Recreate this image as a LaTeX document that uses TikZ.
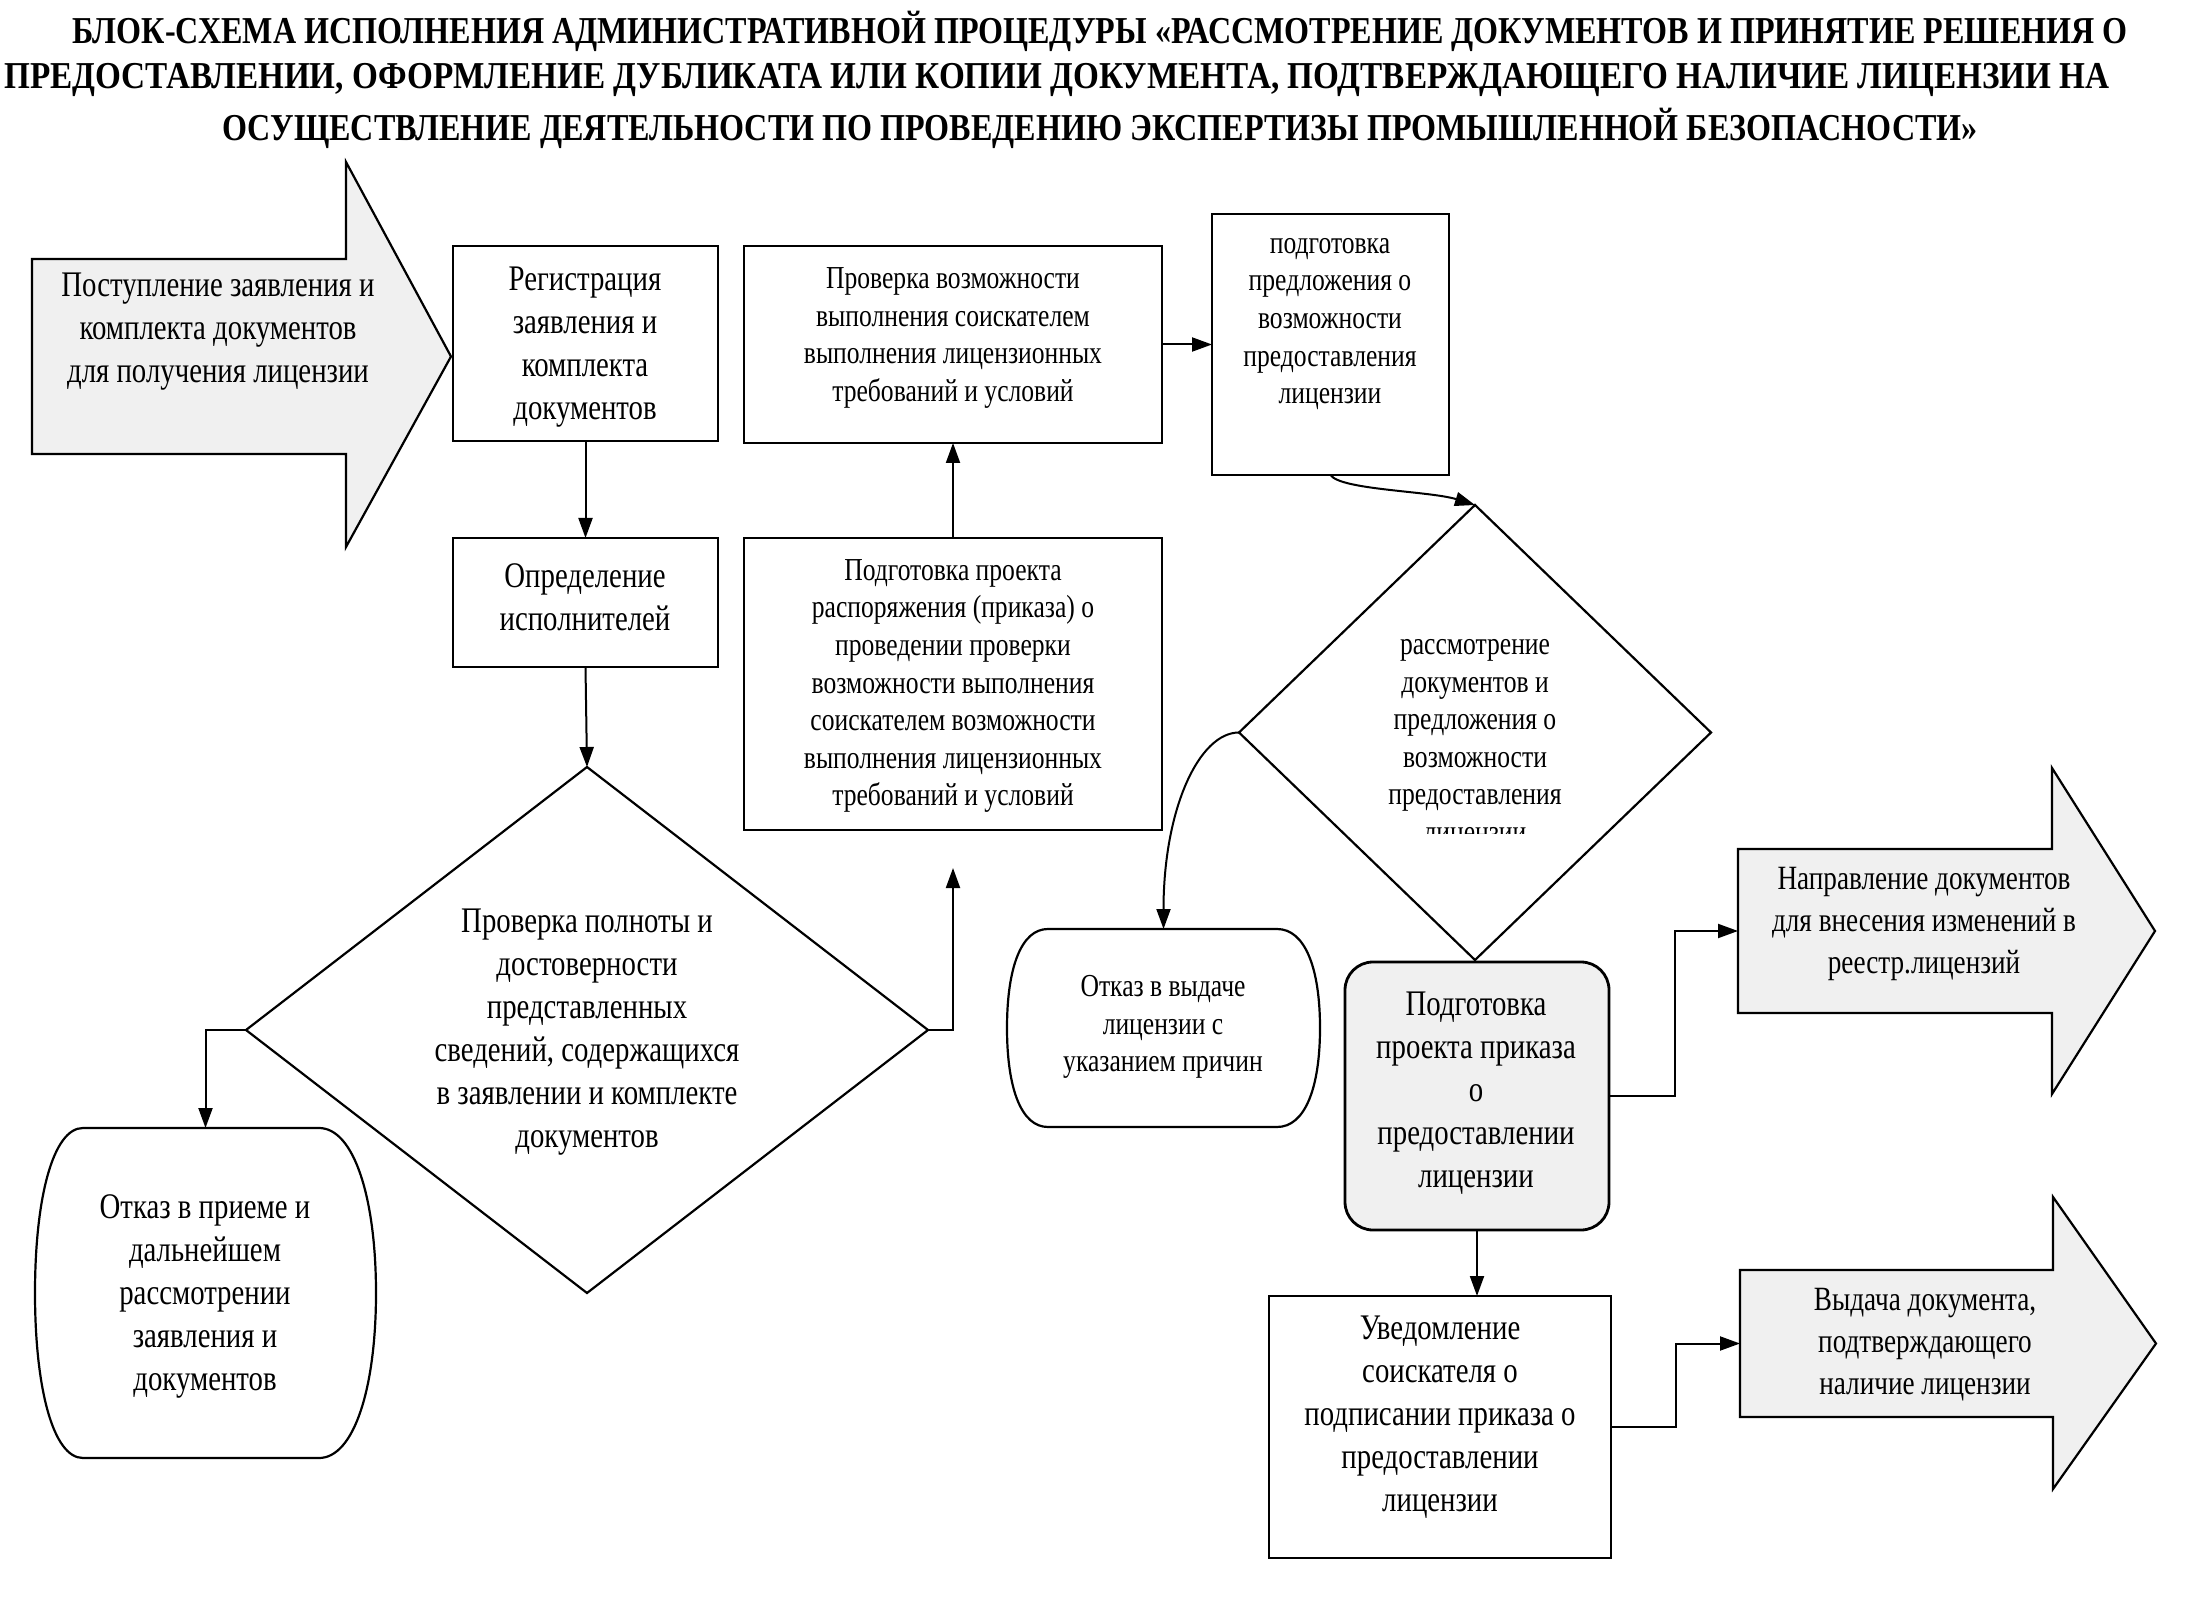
\documentclass[tikz,border=0pt]{standalone}
\usepackage{fontspec}
\setmainfont{Liberation Serif}
\newfontfamily\cond{Liberation Serif}[FakeStretch=0.8]
\newfontfamily\condt{Liberation Serif}[FakeStretch=0.845]
\usetikzlibrary{calc,arrows.meta}
\tikzset{
  box/.style={draw, line width=1.4pt, inner sep=0pt, outer sep=0pt},
  ghost/.style={inner sep=0pt, outer sep=0pt},
  ttl/.style={inner sep=0pt, font=\condt\bfseries\fontsize{19}{24}\selectfont},
  txt/.style={align=center, inner sep=0pt, font=\cond\fontsize{18}{21.5}\selectfont},
  txts/.style={align=center, inner sep=0pt, font=\cond\fontsize{16}{18.8}\selectfont},
  txta/.style={align=center, inner sep=0pt, font=\cond\fontsize{17}{21}\selectfont},
  conn/.style={line width=1pt, -{Triangle[length=10pt,width=7pt]}},
  outline/.style={draw, line width=1.1pt},
  speckle/.style={fill=black!6},
}
\begin{document}
\begin{tikzpicture}[x=0.5pt,y=-0.5pt]
\useasboundingbox[fill=white] (0,0) rectangle (2200,1598);

% title
\node[ttl] (title1) at (1100,31) {БЛОК-СХЕМА ИСПОЛНЕНИЯ АДМИНИСТРАТИВНОЙ ПРОЦЕДУРЫ «РАССМОТРЕНИЕ ДОКУМЕНТОВ И ПРИНЯТИЕ РЕШЕНИЯ О};
\node[ttl] (title2) at (1057,80) {\scalebox{1.035}[1]{ПРЕДОСТАВЛЕНИИ, ОФОРМЛЕНИЕ ДУБЛИКАТА ИЛИ КОПИИ ДОКУМЕНТА, ПОДТВЕРЖДАЮЩЕГО НАЛИЧИЕ ЛИЦЕНЗИИ НА}};
\node[ttl] (title3) at (1100,128) {ОСУЩЕСТВЛЕНИЕ ДЕЯТЕЛЬНОСТИ ПО ПРОВЕДЕНИЮ ЭКСПЕРТИЗЫ ПРОМЫШЛЕННОЙ БЕЗОПАСНОСТИ»};

% ---------- shapes ----------
% incoming big arrow
\node[ghost, minimum width=157pt, minimum height=97.5pt] (arrIn) at (189,356.5) {};
\draw[outline, speckle] (arrIn.north west) -- (arrIn.north east) -- ($(arrIn.north east)+(0,-97)$)
  -- ($(arrIn.east)+(105,0)$) -- ($(arrIn.south east)+(0,93)$) -- (arrIn.south east) -- (arrIn.south west) -- cycle;
\node[txt] (arrInT) at (218,332) {Поступление заявления и\\комплекта документов\\для получения лицензии};

% boxes
\node[box, minimum width=132.5pt, minimum height=97.5pt] (regist) at (585.5,343.5) {};
\node[txt] (registT) at (585,347) {Регистрация\\заявления и\\комплекта\\документов};

\node[box, minimum width=209pt, minimum height=98.5pt] (check) at (953,344.5) {};
\node[txts] (checkT) at (953,338) {Проверка возможности\\выполнения соискателем\\выполнения лицензионных\\требований и условий};

\node[box, minimum width=118.5pt, minimum height=130.5pt] (offer) at (1330.5,344.5) {};
\node[txts] (offerT) at (1330,324) {подготовка\\предложения о\\возможности\\предоставления\\лицензии};

\node[box, minimum width=132.5pt, minimum height=64.5pt] (define) at (585.5,602.5) {};
\node[txt] (defineT) at (585,597) {Определение\\исполнителей};

\node[box, minimum width=209pt, minimum height=146pt] (prep) at (953,684) {};
\node[txts] (prepT) at (953,686) {Подготовка проекта\\распоряжения (приказа) о\\проведении проверки\\возможности выполнения\\соискателем возможности\\выполнения лицензионных\\требований и условий};

% diamond 1
\node[ghost, minimum width=341pt, minimum height=263pt] (d1) at (587,1030) {};
\draw[outline] (d1.north) -- (d1.east) -- (d1.south) -- (d1.west) -- cycle;
\node[txt] (d1T) at (587,1032) {Проверка полноты и\\достоверности\\представленных\\сведений, содержащихся\\в заявлении и комплекте\\документов};

% refusal 1 (barrel)
\node[ghost, minimum width=170.5pt, minimum height=165pt] (r1) at (205.5,1293) {};
\draw[outline] ($(r1.north west)+(48,0)$) -- ($(r1.north east)+(-57,0)$)
  .. controls ($(r1.north east)+(-22,0)$) and ($(r1.east)+(0,-95)$) .. (r1.east)
  .. controls ($(r1.east)+(0,95)$) and ($(r1.south east)+(-22,0)$) .. ($(r1.south east)+(-57,0)$)
  -- ($(r1.south west)+(48,0)$)
  .. controls ($(r1.south west)+(18,0)$) and ($(r1.west)+(0,95)$) .. (r1.west)
  .. controls ($(r1.west)+(0,-95)$) and ($(r1.north west)+(18,0)$) .. ($(r1.north west)+(48,0)$) -- cycle;
\node[txt] (r1T) at (205,1296) {Отказ в приеме и\\дальнейшем\\рассмотрении\\заявления и\\документов};

% diamond 2
\node[ghost, minimum width=236pt, minimum height=227.5pt] (d2) at (1475,732.5) {};
\draw[outline] (d2.north) -- (d2.east) -- (d2.south) -- (d2.west) -- cycle;
\begin{scope}
  \clip (1300,560) rectangle (1650,833);
  \node[txts] (d2T) at (1475,744) {рассмотрение\\документов и\\предложения о\\возможности\\предоставления\\лицензии};
\end{scope}

% refusal 2 (barrel)
\node[ghost, minimum width=156.5pt, minimum height=99pt] (r2) at (1163.5,1028) {};
\draw[outline] ($(r2.north west)+(41,0)$) -- ($(r2.north east)+(-43,0)$)
  .. controls ($(r2.north east)+(-15,0)$) and ($(r2.east)+(0,-60)$) .. (r2.east)
  .. controls ($(r2.east)+(0,60)$) and ($(r2.south east)+(-15,0)$) .. ($(r2.south east)+(-43,0)$)
  -- ($(r2.south west)+(41,0)$)
  .. controls ($(r2.south west)+(14,0)$) and ($(r2.west)+(0,60)$) .. (r2.west)
  .. controls ($(r2.west)+(0,-60)$) and ($(r2.north west)+(14,0)$) .. ($(r2.north west)+(41,0)$) -- cycle;
\node[txts] (r2T) at (1163,1027) {Отказ в выдаче\\лицензии с\\указанием причин};

% grant (shaded rounded)
\node[box, speckle, rounded corners=14pt, minimum width=132pt, minimum height=134pt] (grant) at (1477,1096) {};
\node[txt] (grantT) at (1476,1093) {Подготовка\\проекта приказа\\о\\предоставлении\\лицензии};

% notify
\node[box, minimum width=171pt, minimum height=131pt] (notify) at (1440,1427) {};
\node[txt] (notifyT) at (1440,1417) {Уведомление\\соискателя о\\подписании приказа о\\предоставлении\\лицензии};

% output arrow 1
\node[ghost, minimum width=157pt, minimum height=82pt] (arr1) at (1895,931) {};
\draw[outline, speckle] (arr1.north west) -- (arr1.north east) -- ($(arr1.north east)+(0,-81)$)
  -- ($(arr1.east)+(103,0)$) -- ($(arr1.south east)+(0,81)$) -- (arr1.south east) -- (arr1.south west) -- cycle;
\node[txta] (arr1T) at (1924,924) {Направление документов\\для внесения изменений в\\реестр.лицензий};

% output arrow 2
\node[ghost, minimum width=156.5pt, minimum height=73.5pt] (arr2) at (1896.5,1343.5) {};
\draw[outline, speckle] (arr2.north west) -- (arr2.north east) -- ($(arr2.north east)+(0,-73)$)
  -- ($(arr2.east)+(103,0)$) -- ($(arr2.south east)+(0,72)$) -- (arr2.south east) -- (arr2.south west) -- cycle;
\node[txta] (arr2T) at (1925,1345) {Выдача документа,\\подтверждающего\\наличие лицензии};

% ---------- connectors ----------
\draw[conn] (regist.south) -- (define.north);
\draw[conn] (define.south) -- (d1.north);
\draw[conn] (d1.west) -| (r1.north);
\coordinate (up1) at (953,868);
\draw[conn] (d1.east) -| (up1);
\draw[conn] (prep.north) -- (check.south);
\draw[conn] (check.east) -- (offer.west);
\draw[conn] (offer.south) .. controls ($(offer.south)+(10,15)$) and ($(d2.north)+(-45,-14)$) .. (d2.north);
\draw[conn] (d2.west) .. controls ($(d2.west)+(-40,0)$) and ($(r2.north)+(0,-120)$) .. (r2.north);
\draw[conn] (grant.east) -- ++(66,0) |- (arr1.west);
\draw[conn] (grant.south) -- (grant.south |- notify.north);
\draw[conn] (notify.east) -- ++(65,0) |- (arr2.west);
\end{tikzpicture}
\end{document}
